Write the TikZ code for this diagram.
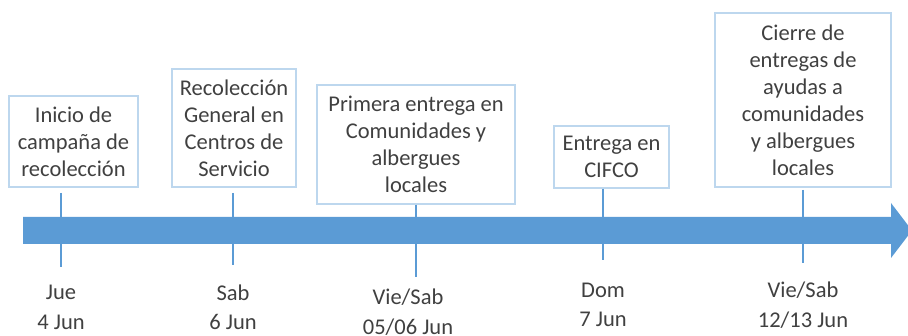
\documentclass[tikz,border=0pt]{standalone}
\usepackage{fontspec}
\setmainfont{Carlito}
\definecolor{lineblue}{HTML}{5B9BD5}
\definecolor{boxblue}{HTML}{BDD7EE}
\definecolor{textgray}{HTML}{404040}
\tikzset{
    event/.style={draw=boxblue,line width=1.2pt,align=center,inner sep=0pt,
        text=textgray,font=\fontsize{22.5}{27}\selectfont},
    datelabel/.style={align=center,text=textgray,font=\fontsize{22.5}{29.5}\selectfont},
    tickline/.style={draw=lineblue,line width=2.6pt}
}

\begin{document}
\begin{tikzpicture}[x=1pt,y=-1pt]
    \useasboundingbox (0,0) rectangle (908,336);
    % event boxes
    \node[event,minimum width=129pt,minimum height=91pt] (inicio) at (73.5,141.5)
        {Inicio de\\campaña de\\recolección};
    \node[event,minimum width=124pt,minimum height=118pt] (general) at (234,128)
        {Recolección\\General en\\Centros de\\Servicio};
    \node[event,minimum width=198pt,minimum height=119pt] (primera) at (416,144.5)
        {Primera entrega en\\Comunidades y\\albergues\\locales};
    \node[event,minimum width=115pt,minimum height=62pt] (cifco) at (611.5,157)
        {Entrega en\\CIFCO};
    \node[event,minimum width=176pt,minimum height=174pt] (cierre) at (803,100)
        {Cierre de\\entregas de\\ayudas a\\comunidades\\y albergues\\locales};
    % dates
    \node[datelabel] (d1) at (61,307.5) {Jue\\4 Jun};
    \node[datelabel] (d2) at (233,307.5) {Sab\\6 Jun};
    \node[datelabel] (d3) at (408,312) {Vie/Sab\\05/06 Jun};
    \node[datelabel] (d4) at (603,305) {Dom\\7 Jun};
    \node[datelabel] (d5) at (803,305) {Vie/Sab\\12/13 Jun};
    % ticks
    \coordinate (t1a) at (61,193);   \coordinate (t1b) at (61,267);
    \coordinate (t2a) at (233,193);  \coordinate (t2b) at (233,265);
    \coordinate (t3b) at (416,277);
    \coordinate (t4b) at (603,260);
    \coordinate (t5a) at (803,190);  \coordinate (t5b) at (803,263);
    \draw[tickline] (t1a) -- (t1b);
    \draw[tickline] (t2a) -- (t2b);
    \draw[tickline] (primera.south) -- (t3b);
    \draw[tickline] (cifco.south -| t4b) -- (t4b);
    \draw[tickline] (t5a) -- (t5b);
    % timeline arrow
    \fill[lineblue] (23,217) -- (891,217) -- (891,203) -- (912,230.5)
        -- (891,258) -- (891,244) -- (23,244) -- cycle;
\end{tikzpicture}
\end{document}
